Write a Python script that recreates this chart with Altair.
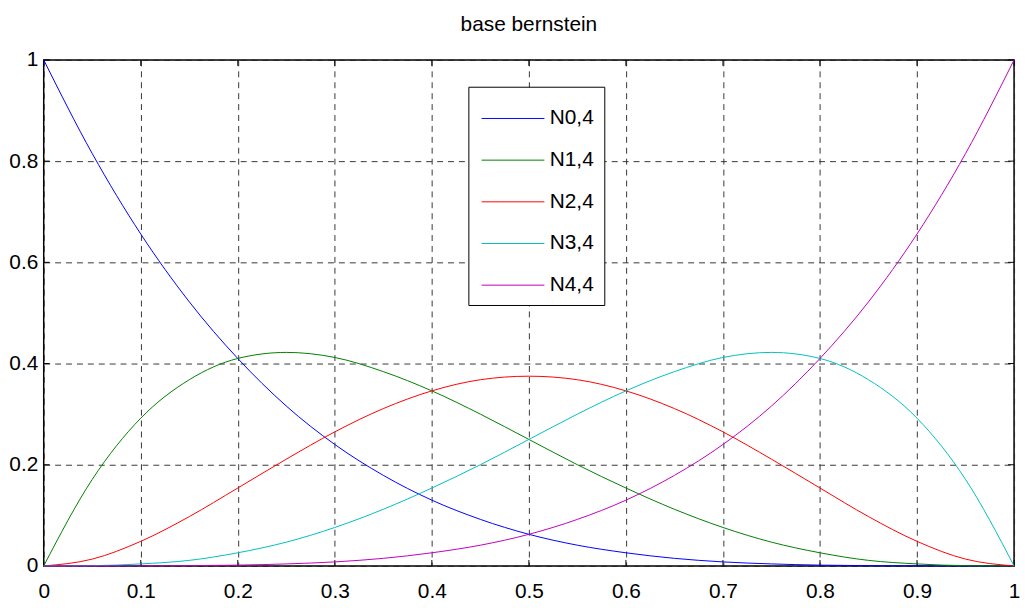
import altair as alt
import pandas as pd

FONT = "Liberation Sans, Arial, sans-serif"

x_vals = [0.0, 0.05, 0.1, 0.15, 0.2, 0.25, 0.3, 0.35, 0.4, 0.45, 0.5,
          0.55, 0.6, 0.65, 0.7, 0.75, 0.8, 0.85, 0.9, 0.95, 1.0]

n0 = [1.0, 0.815, 0.656, 0.522, 0.410, 0.316, 0.240, 0.179, 0.130, 0.092, 0.0625,
      0.041, 0.026, 0.015, 0.008, 0.004, 0.0016, 0.0005, 0.0001, 0.0, 0.0]
n1 = [0.0, 0.171, 0.292, 0.368, 0.410, 0.422, 0.412, 0.384, 0.346, 0.300, 0.25,
      0.200, 0.154, 0.112, 0.076, 0.047, 0.026, 0.011, 0.004, 0.0005, 0.0]
n2 = [0.0, 0.0135, 0.0486, 0.0975, 0.154, 0.211, 0.265, 0.311, 0.346, 0.368, 0.375,
      0.368, 0.346, 0.311, 0.265, 0.211, 0.154, 0.0975, 0.0486, 0.0135, 0.0]
n3 = [0.0, 0.0005, 0.004, 0.011, 0.026, 0.047, 0.076, 0.112, 0.154, 0.200, 0.25,
      0.300, 0.346, 0.384, 0.412, 0.422, 0.410, 0.368, 0.292, 0.171, 0.0]
n4 = [0.0, 0.0, 0.0001, 0.0005, 0.0016, 0.004, 0.008, 0.015, 0.026, 0.041, 0.0625,
      0.092, 0.130, 0.179, 0.240, 0.316, 0.410, 0.522, 0.656, 0.815, 1.0]

series_names = ["N0,4", "N1,4", "N2,4", "N3,4", "N4,4"]
series_colors = ["#0000ff", "#008000", "#ff0000", "#00bfbf", "#bf00bf"]
x_ticks = [0, 0.1, 0.2, 0.3, 0.4, 0.5, 0.6, 0.7, 0.8, 0.9, 1]
y_ticks = [0, 0.2, 0.4, 0.6, 0.8, 1]

rows = []
for name, vals in zip(series_names, [n0, n1, n2, n3, n4]):
    for xv, yv in zip(x_vals, vals):
        rows.append({"t": xv, "value": yv, "serie": name})
df = pd.DataFrame(rows)

W, H, TK = 978, 510, 6

X_ENC = alt.X("t:Q", scale=alt.Scale(domain=[0, 1], nice=False, zero=False),
              axis=alt.Axis(values=x_ticks, format="~g", title=None, labelPadding=15))
Y_ENC = alt.Y("value:Q", scale=alt.Scale(domain=[0, 1], nice=False),
              axis=alt.Axis(values=y_ticks, format="~g", title=None, labelPadding=6))

lines = alt.Chart(df).mark_line(strokeWidth=1, interpolate="monotone").encode(
    x=X_ENC,
    y=Y_ENC,
    color=alt.Color("serie:N",
                    scale=alt.Scale(domain=series_names, range=series_colors),
                    legend=alt.Legend(orient="none", legendX=428, legendY=27,
                                      title=None, symbolType="M-1.5,0H1.5",
                                      symbolSize=1780, symbolStrokeWidth=1,
                                      labelFontSize=21, labelFont=FONT,
                                      labelColor="black", labelOffset=15,
                                      strokeColor="black", fillColor="white",
                                      padding=10, rowPadding=10, symbolOffset=13)),
    order="serie:N",
)

xt = pd.DataFrame({"t": x_ticks})
yt = pd.DataFrame({"value": y_ticks})
tick_style = dict(color="black", strokeWidth=1)
bottom_ticks = alt.Chart(xt).mark_rule(**tick_style).encode(
    x=X_ENC, y=alt.value(H), y2=alt.value(H - TK))
top_ticks = alt.Chart(xt).mark_rule(**tick_style).encode(
    x=X_ENC, y=alt.value(0), y2=alt.value(TK))
left_ticks = alt.Chart(yt).mark_rule(**tick_style).encode(
    y=Y_ENC, x=alt.value(0), x2=alt.value(TK))
right_ticks = alt.Chart(yt).mark_rule(**tick_style).encode(
    y=Y_ENC, x=alt.value(W), x2=alt.value(W - TK))

chart = alt.layer(
    bottom_ticks, top_ticks, left_ticks, right_ticks, lines
).properties(
    width=W,
    height=H,
    title=alt.TitleParams("base bernstein", fontSize=21, font=FONT,
                          fontWeight="normal", color="black", anchor="middle",
                          offset=14),
    autosize=alt.AutoSizeParams(type="none"),
    padding={"left": 36, "top": 50, "right": 7, "bottom": 34},
).configure(
    background="white"
).configure_view(
    stroke="black", strokeWidth=1.5
).configure_axis(
    labelFont=FONT, labelFontSize=21, labelColor="black",
    domain=False, ticks=False,
    grid=True, gridColor="#222222", gridDash=[6, 5], gridWidth=1, gridOpacity=0.9,
    labelFlush=False, labelOverlap=False,
)

chart.save("out.html", embed_options={"renderer": "svg", "actions": False})
